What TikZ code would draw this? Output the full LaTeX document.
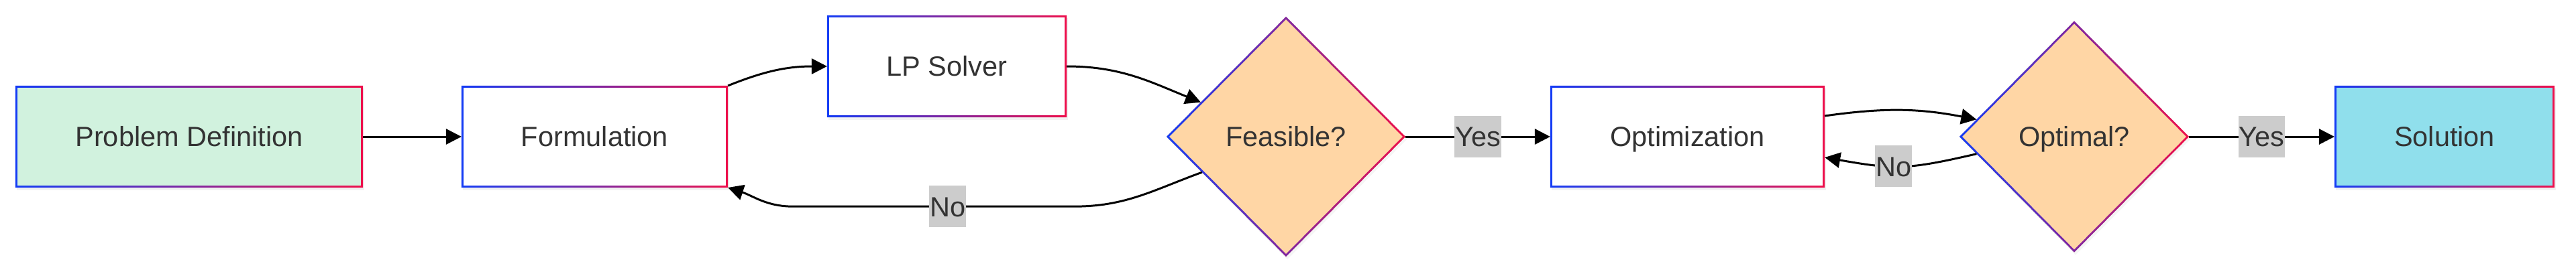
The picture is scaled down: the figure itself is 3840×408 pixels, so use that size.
\documentclass[tikz,border=0pt]{standalone}
\usepackage{fontspec}
\setsansfont{Liberation Sans}
\usetikzlibrary{positioning,shapes.geometric,arrows.meta,shadows}
\definecolor{edgeblue}{RGB}{20,60,245}
\definecolor{edgered}{RGB}{238,16,76}
\definecolor{textgrey}{HTML}{333333}
\definecolor{startgreen}{HTML}{D1F2DE}
\definecolor{checkpeach}{HTML}{FFD6A5}
\definecolor{endcyan}{HTML}{90DFEC}
\definecolor{taggrey}{HTML}{CCCCCC}
\def\gradbox#1{\shade [left color=edgeblue,right color=edgered,even odd rule] (#1.south west) rectangle (#1.north east) ([shift={(3,3)}]#1.south west) rectangle ([shift={(-3,-3)}]#1.north east);}
\def\graddiamond#1{\shade [left color=edgeblue,right color=edgered,even odd rule] (#1.west) -- (#1.north) -- (#1.east) -- (#1.south) -- cycle ([shift={(4,0)}]#1.west) -- ([shift={(0,-4)}]#1.north) -- ([shift={(-4,0)}]#1.east) -- ([shift={(0,4)}]#1.south) -- cycle;}

\begin{document}
\begin{tikzpicture}[x=0.01cm,y=0.01cm,>={Triangle[length=0.23cm,width=0.23cm]},font=\sffamily\fontsize{11.8}{14}\selectfont,
	box/.style={rectangle,minimum height=1.52cm,inner sep=0pt,outer sep=0pt,text=textgrey,text height=8.45pt,text depth=0pt,drop shadow={shadow xshift=0.02cm,shadow yshift=-0.04cm,opacity=0.1}},
	check/.style={diamond,inner sep=0pt,outer sep=0pt,fill=checkpeach,text=textgrey,text height=8.45pt,text depth=0pt,drop shadow={shadow xshift=0.02cm,shadow yshift=-0.04cm,opacity=0.08}},
	flow/.style={->,line width=0.85pt,black},
	tag/.style={fill=taggrey,text=textgrey,inner xsep=0.01cm,inner ysep=0pt,minimum height=0.62cm,text height=8.45pt,text depth=0pt}]
	\useasboundingbox (0,-204) rectangle (3840,204);
	\node [box,fill=startgreen,minimum width=5.18cm] at (282,0) (problem) {Problem Definition};
	\node [box,fill=white,minimum width=3.97cm] at (886.5,0) (formulation) {Formulation};
	\node [box,fill=white,minimum width=3.57cm] at (1411.5,105) (solver) {LP Solver};
	\node [check,minimum width=3.56cm,minimum height=3.58cm] at (1917,0) (feasible) {Feasible?};
	\node [box,fill=white,minimum width=4.09cm] at (2515.5,0) (optimization) {Optimization};
	\node [check,minimum width=3.42cm,minimum height=3.45cm] at (3092,0) (optimal) {Optimal?};
	\node [box,fill=endcyan,minimum width=3.28cm] at (3644,0) (solution) {Solution};
	% two-colour outlines
	\foreach \n in {problem,formulation,solver,optimization,solution} {\gradbox{\n}}
	\foreach \n in {feasible,optimal} {\graddiamond{\n}}
	\draw [flow] (problem.east) -- (formulation.west);
	\draw [flow] (formulation.north east) to[out=22,in=180] (solver.west);
	\draw [flow] (solver.east) to[out=0,in=158] (feasible.158);
	\draw [flow] (feasible.203) to[out=200,in=0] ++(-190,-51) -- node[tag,pos=0.45] {No} ++(-420,0) to[out=180,in=-18] (formulation.south east);
	\draw [flow] (feasible.east) -- node[tag] {Yes} (optimization.west);
	\draw [flow] ([shift={(0,31)}]optimization.east) to[out=8,in=169] (optimal.170);
	\draw [flow] (optimal.190) to[out=193,in=-10,looseness=1.2] node[tag,pos=0.56] {No} ([shift={(0,-31)}]optimization.east);
	\draw [flow] (optimal.east) -- node[tag] {Yes} (solution.west);
\end{tikzpicture}
\end{document}
